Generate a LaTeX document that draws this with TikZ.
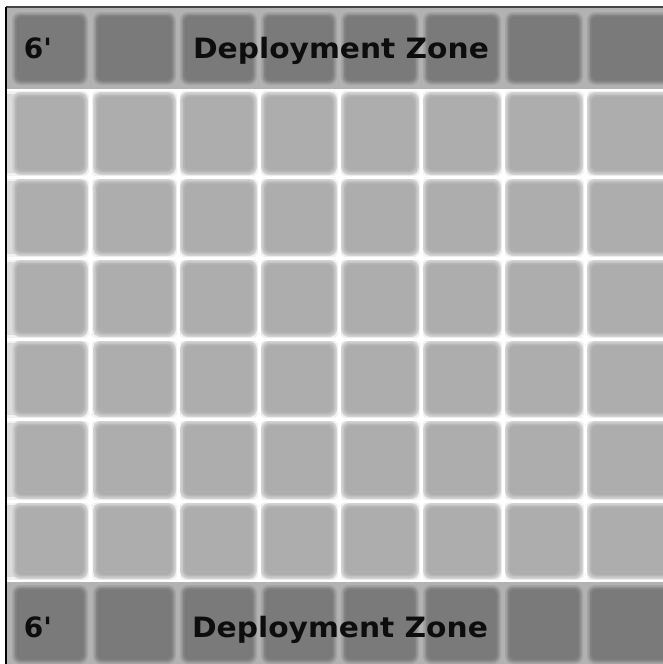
\documentclass[tikz,border=0pt]{standalone}
\usepackage{fontspec}
\newfontfamily\zonefont{DejaVu Sans}
\definecolor{zonebg}{HTML}{B2B2B2}
\definecolor{zonecell}{HTML}{7A7A7A}
\definecolor{zoneedgeA}{HTML}{A4A4A4}
\definecolor{zoneedgeB}{HTML}{939393}
\definecolor{zoneedgeC}{HTML}{838383}
\definecolor{gridcell}{HTML}{ADADAD}
\definecolor{gridedgeA}{HTML}{D2D2D2}
\definecolor{gridedgeB}{HTML}{C4C4C4}
\definecolor{gridedgeC}{HTML}{B6B6B6}
\definecolor{glow}{HTML}{DCDCDC}
\definecolor{halo}{HTML}{F2F2F2}
\definecolor{topline}{HTML}{454545}
\tikzset{
  zonetext/.style={text=black!95, font=\zonefont\bfseries\fontsize{28}{30}\selectfont, inner sep=0pt, anchor=base},
  halostroke/.style={halo, line width=8},
  corestroke/.style={white, line width=3},
  spot/.style={white},
}
\begin{document}
\begin{tikzpicture}[x=1pt,y=-1pt]
\useasboundingbox (0,0) rectangle (663,664);
\fill[white] (0,0) rectangle (663,664);
\begin{scope}
\clip (6,7) rectangle (663,664);
% playing area with glowing lines
\fill[glow] (6,90) rectangle (663,581);
\foreach \x in {90,178,259,339,421,503,585} {
  \draw[halostroke] (\x,90) -- (\x,581);
}
\foreach \y in {90,177,258,339,419,501,581} {
  \draw[halostroke] (6,\y) -- (663,\y);
}
\foreach \x in {90,178,259,339,421,503,585} {
  \draw[corestroke] (\x,90) -- (\x,581);
}
\foreach \y in {177,258,339,419,501} {
  \draw[corestroke] (6,\y) -- (663,\y);
}
\foreach \x in {90,178,259,339,421,503,585} {
  \foreach \y in {90,177,258,339,419,501,581} {
    \fill[spot] (\x-5.5,\y) -- (\x,\y-5.5) -- (\x+5.5,\y) -- (\x,\y+5.5) -- cycle;
  }
}
% grid cells with soft edges
\foreach \a/\b in {14/86,95/174,182/255,263/335,343/417,425/499,507/581,589/672} {
  \foreach \c/\d in {94/173,181/254,262/335,343/415,423/497,505/577} {
    \fill[gridedgeA, rounded corners=8] (\a-2,\c-2) rectangle (\b+2,\d+2);
    \fill[gridedgeB, rounded corners=7] (\a-0.5,\c-0.5) rectangle (\b+0.5,\d+0.5);
    \fill[gridedgeC, rounded corners=6] (\a+1,\c+1) rectangle (\b-1,\d-1);
    \fill[gridcell, rounded corners=5] (\a+2.5,\c+2.5) rectangle (\b-2.5,\d-2.5);
  }
}
% deployment zones
\fill[zonebg] (6,7) rectangle (663,89);
\fill[zonebg] (6,582) rectangle (663,664);
\draw[white, line width=1.5] (6,90) -- (663,90);
\draw[white, line width=1.5] (6,581) -- (663,581);
\foreach \a/\b in {14/86,95/174,182/255,263/335,343/417,425/499,507/581,589/672} {
  \foreach \c/\d in {14/83,587/662} {
    \fill[zoneedgeA, rounded corners=8] (\a-2,\c-2) rectangle (\b+2,\d+2);
    \fill[zoneedgeB, rounded corners=7] (\a-0.5,\c-0.5) rectangle (\b+0.5,\d+0.5);
    \fill[zoneedgeC, rounded corners=6] (\a+1,\c+1) rectangle (\b-1,\d-1);
    \fill[zonecell, rounded corners=5] (\a+2.5,\c+2.5) rectangle (\b-2.5,\d-2.5);
  }
}
\end{scope}
% labels
\node[zonetext] (top6) at (38,58.5) {6'};
\node[zonetext] (toptitle) at (341,58.5) {\scalebox{1.06}[1]{Deployment Zone}};
\node[zonetext] (bot6) at (38,637) {6'};
\node[zonetext] (bottitle) at (340,637) {\scalebox{1.06}[1]{Deployment Zone}};
% board border
\draw[topline, line width=1.5] (6,7) -- (663,7);
\draw[black, line width=1.5] (6,7) -- (6,664);
\end{tikzpicture}
\end{document}
